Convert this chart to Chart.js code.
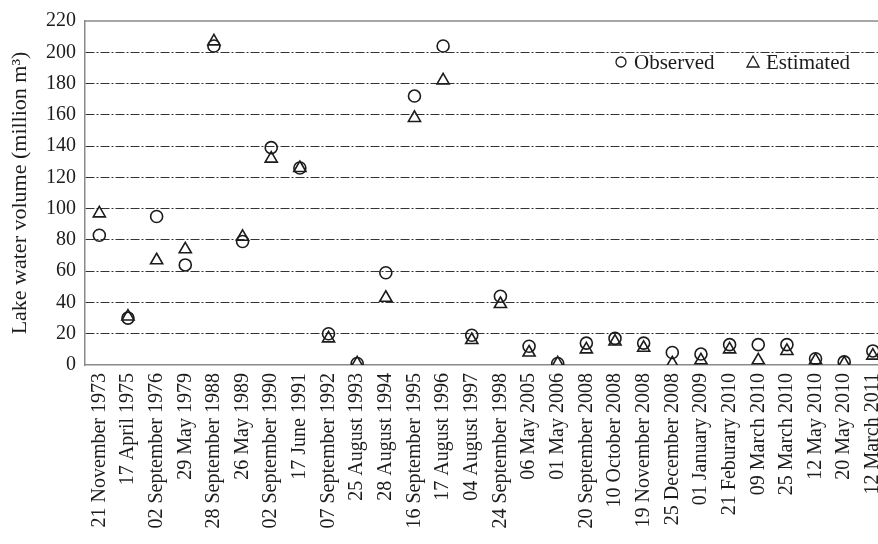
<!DOCTYPE html>
<html>
<head>
<meta charset="utf-8">
<script src="https://cdn.jsdelivr.net/npm/chart.js@4/dist/chart.umd.min.js"></script>
<style>
  html, body { margin: 0; padding: 0; background: #fff; overflow: hidden; }
  #wrap { width: 905px; height: 544px; }
</style>
</head>
<body>
<div id="wrap"><canvas id="chart" width="905" height="544"></canvas></div>
<script>
// Sampling dates (x categories)
const dates = [
    '21 November 1973', '17 April 1975', '02 September 1976', '29 May 1979',
    '28 September 1988', '26 May 1989', '02 September 1990', '17 June 1991',
    '07 September 1992', '25 August 1993', '28 August 1994', '16 September 1995',
    '17 August 1996', '04 August 1997', '24 September 1998', '06 May 2005',
    '01 May 2006', '20 September 2008', '10 October 2008', '19 November 2008',
    '25 December 2008', '01 January 2009', '21 Feburary 2010', '09 March 2010',
    '25 March 2010', '12 May 2010', '20 May 2010', '12 March 2011'
];

// Lake water volume, million m3
const observed = [83, 30, 95, 64, 204, 79, 139, 126, 20, 1, 59, 172, 204, 19, 44, 12,
    1, 14, 17, 14, 8, 7, 13, 13, 13, 4, 2, 9];
const estimated = [97, 31, 67, 74, 207, 82, 132, 126, 17, 1, 43, 158, 182, 16, 39, 8,
    1, 10, 15, 11, 1, 3, 10, 3, 9, 3, 1, 6];

const yTicks = [0, 20, 40, 60, 80, 100, 120, 140, 160, 180, 200, 220];

const serif = 'Liberation Serif';
const ink = '#1c1c1c';
const axisGray = '#8a8a8a';

// Top frame line + legend inside the plot
const framePlugin = {
    id: 'frame',
    afterDraw(chart) {
        const ctx = chart.ctx;
        const a = chart.chartArea;
        ctx.save();
        ctx.strokeStyle = axisGray;
        ctx.lineWidth = 1.5;
        ctx.beginPath();
        ctx.moveTo(a.left, a.top);
        ctx.lineTo(a.right, a.top);
        ctx.stroke();

        // legend
        const ly = 62;
        ctx.strokeStyle = ink;
        ctx.lineWidth = 1.3;
        ctx.beginPath();
        ctx.arc(621, ly, 5, 0, Math.PI * 2);
        ctx.stroke();
        ctx.beginPath();
        ctx.moveTo(753, ly - 6);
        ctx.lineTo(759, ly + 5);
        ctx.lineTo(747, ly + 5);
        ctx.closePath();
        ctx.stroke();
        ctx.fillStyle = ink;
        ctx.font = '21px "' + serif + '"';
        ctx.textBaseline = 'middle';
        ctx.fillText('Observed', 634, ly + 1);
        ctx.fillText('Estimated', 766, ly + 1);
        ctx.restore();
    }
};

new Chart(document.getElementById('chart'), {
    type: 'line',
    data: {
        labels: dates,
        datasets: [
            {
                label: 'Observed',
                data: observed,
                showLine: false,
                pointStyle: 'circle',
                pointRadius: 6,
                pointBorderWidth: 1.6,
                pointBackgroundColor: 'rgba(0,0,0,0)',
                pointBorderColor: ink
            },
            {
                label: 'Estimated',
                data: estimated,
                showLine: false,
                pointStyle: 'triangle',
                pointRadius: 7,
                pointBorderWidth: 1.6,
                pointBackgroundColor: 'rgba(0,0,0,0)',
                pointBorderColor: ink
            }
        ]
    },
    options: {
        responsive: false,
        animation: false,
        devicePixelRatio: 1,
        layout: { padding: { top: 16, right: 3, left: 0, bottom: 0 } },
        plugins: {
            legend: { display: false },
            tooltip: { enabled: false }
        },
        scales: {
            x: {
                type: 'category',
                offset: true,
                grid: { display: false, drawTicks: false },
                border: { color: axisGray, width: 1.5 },
                ticks: {
                    autoSkip: false,
                    minRotation: 90,
                    maxRotation: 90,
                    padding: 8,
                    color: ink,
                    font: { family: serif, size: 20 }
                },
                afterFit(scale) { scale.height = 179; }
            },
            y: {
                min: 0,
                max: 220,
                afterBuildTicks(scale) {
                    scale.ticks = yTicks.map(v => ({ value: v }));
                },
                grid: {
                    drawTicks: false,
                    color: c => (c.tick.value === 0 || c.tick.value === 220) ? 'rgba(0,0,0,0)' : '#333',
                    lineWidth: 1
                },
                border: { color: axisGray, width: 1.5, dash: [9, 2, 2, 2] },
                ticks: {
                    padding: 9,
                    color: ink,
                    font: { family: serif, size: 20 }
                },
                title: {
                    display: true,
                    text: 'Lake water volume (million m³)',
                    color: ink,
                    padding: { top: 7, bottom: 0 },
                    font: { family: serif, size: 22 }
                },
                afterFit(scale) { scale.width = 85; }
            }
        }
    },
    plugins: [framePlugin]
});
</script>
</body>
</html>
